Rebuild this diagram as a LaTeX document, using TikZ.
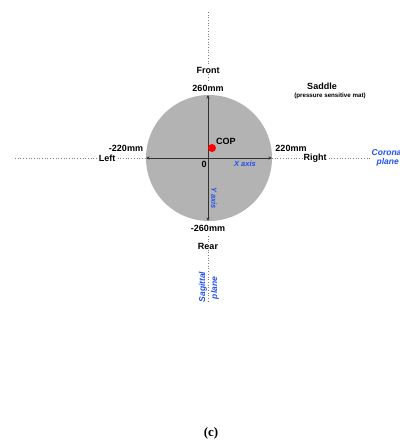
\documentclass[tikz,border=0pt]{standalone}
\usepackage{fontspec}
\setmainfont{Liberation Serif}
\setsansfont{Liberation Sans}
\usetikzlibrary{arrows.meta}
\definecolor{padgray}{HTML}{B3B3B3}
\definecolor{axisgray}{HTML}{333333}
\definecolor{planeblue}{HTML}{2050F0}
\tikzset{
  lbl/.style={font=\sffamily\bfseries\fontsize{9}{10}\selectfont, text=black, inner sep=1pt},
  sublbl/.style={font=\sffamily\bfseries\fontsize{6.2}{7}\selectfont, inner sep=1pt},
  axislbl/.style={font=\sffamily\bfseries\itshape\fontsize{7.5}{8}\selectfont, text=planeblue, inner sep=0.5pt},
  planelbl/.style={font=\sffamily\bfseries\itshape\fontsize{8.5}{9.5}\selectfont, text=planeblue, inner sep=0.5pt, align=center},
  planeline/.style={draw=gray, line width=0.7pt, dotted},
  axisline/.style={draw=axisgray, line width=0.8pt, {Stealth[length=3.5pt,width=3pt]}-{Stealth[length=3.5pt,width=3pt]}},
  gap/.style={fill=white}
}
\begin{document}
\begin{tikzpicture}[x=1pt,y=-1pt]
  \useasboundingbox (0,0) rectangle (399,444);

  % saddle (pressure sensitive mat)
  \node[circle, fill=padgray, minimum size=126pt, inner sep=0pt] (pad) at (209,158) {};

  % plane reference lines
  \coordinate (topend) at (208,12);
  \coordinate (botend) at (208,302);
  \coordinate (leftend) at (15,158);
  \coordinate (rightend) at (370,158);
  \coordinate (ptop) at (208,95);
  \coordinate (pbot) at (208,221);
  \coordinate (pleft) at (146,158);
  \coordinate (pright) at (272,158);
  \draw[planeline] (topend) -- (208,82);
  \draw[planeline] (208,236) -- (botend);
  \draw[planeline] (leftend) -- (pleft);
  \draw[planeline] (pright) -- (rightend);

  % axes
  \draw[axisline] (pleft) -- (pright);
  \draw[axisline] (pbot) -- (ptop);

  % direction labels
  \node[lbl, gap] (front) at (208,70) {Front};
  \node[lbl, gap] (rear) at (208,246) {Rear};
  \node[lbl, gap] (left) at (107,158) {Left};
  \node[lbl, gap] (right) at (315,158) {Right};

  % extent labels
  \node[lbl] (ytop) at (208,88) {260mm};
  \node[lbl] (ybot) at (208,228) {-260mm};
  \node[lbl] (xleft) at (126,148) {-220mm};
  \node[lbl] (xright) at (291,148) {220mm};
  \node[lbl] (origin) at (204,164) {0};

  % centre of pressure
  \node[circle, fill=red, minimum size=8pt, inner sep=0pt] (cop) at (212,148) {};
  \node[lbl, anchor=west] (coplbl) at (215,141) {COP};

  % axis names
  \node[axislbl] (xaxis) at (245,164) {X axis};
  \node[axislbl, rotate=-90] (yaxis) at (214,198) {Y axis};

  % plane names
  \node[planelbl, anchor=west] (coronal) at (371,158) {Coronal\\plane};
  \node[planelbl, rotate=90] (sag1) at (203,287) {Sagittal};
  \node[planelbl, rotate=90] (sag2) at (215,288) {plane};

  % saddle caption
  \node[lbl] (saddle) at (322,86) {Saddle};
  \node[sublbl] (mat) at (330,96) {(pressure sensitive mat)};

  % panel tag
  \node[font=\rmfamily\bfseries\fontsize{13}{14}\selectfont] (tag) at (211,433) {(c)};
\end{tikzpicture}
\end{document}
